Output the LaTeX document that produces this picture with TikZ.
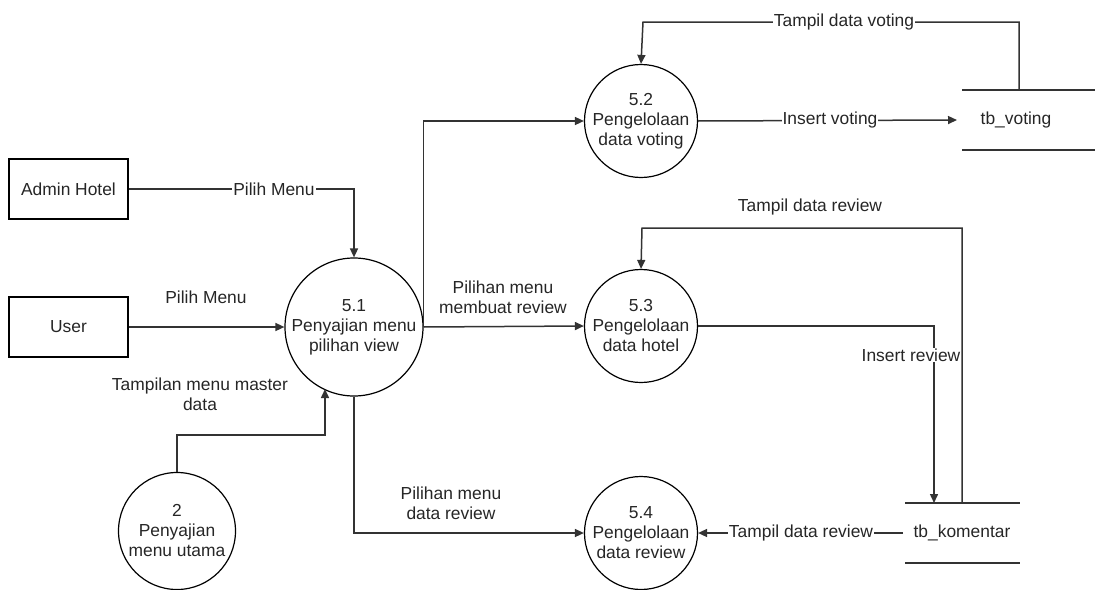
\documentclass[tikz,border=0pt]{standalone}
\usepackage{fontspec}
\setmainfont{Liberation Sans}
\usetikzlibrary{arrows.meta}
\begin{document}
\begin{tikzpicture}[x=1pt,y=-1pt,
  every node/.style={font=\fontsize{17.4}{20}\selectfont, text=black!85},
  proc/.style={draw, circle, line width=1.2pt, inner sep=0pt, align=center},
  ent/.style={draw, rectangle, line width=1.2pt, minimum width=119pt, minimum height=60pt, inner sep=0pt},
  lbl/.style={fill=white, inner sep=1pt, align=center},
  flow/.style={line width=1.5pt, draw=black!80, -{Triangle[length=9pt,width=8pt]}},
  storeline/.style={line width=1.5pt, draw=black!80}]
\useasboundingbox (0,0) rectangle (1095,589);
% external entities
\node[ent] (admin) at (68.5,189) {Admin Hotel};
\node[ent] (user) at (68.5,327) {User};
% processes
\node[proc, minimum size=138pt] (p51) at (354,327) {5.1\\Penyajian menu\\pilihan view};
\node[proc, minimum size=117pt] (p2) at (177,531) {2\\Penyajian\\menu utama};
\node[proc, minimum size=113pt] (p52) at (641,121) {5.2\\Pengelolaan\\data voting};
\node[proc, minimum size=113pt] (p53) at (641,326) {5.3\\Pengelolaan\\data hotel};
\node[proc, minimum size=113pt] (p54) at (641,533) {5.4\\Pengelolaan\\data review};
% data stores
\node (tbv) at (1016,120) {tb\_voting};
\draw[storeline] (962,90) -- (1095,90);
\draw[storeline] (962,150) -- (1095,150);
\node (tbk) at (962,533) {tb\_komentar};
\draw[storeline] (905,503) -- (1020,503);
\draw[storeline] (905,563) -- (1020,563);
\coordinate (tbvin) at (957,120);
\coordinate (tbvtop) at (1019,90);
\coordinate (tbktopA) at (934,503);
\coordinate (tbktopB) at (962,503);
\coordinate (tbkout) at (903,533);
\coordinate (p51in) at (325,389);
% flows
\draw[flow] (admin.east) -| (p51.north);
\node[lbl] at (274,189) {Pilih Menu};
\draw[flow] (user.east) -- (p51.west);
\node at (206,297) {Pilih Menu};
\draw[flow] (p2.north) |- (325,435) -- (p51in);
\node[align=center] at (200,394) {Tampilan menu master\\data};
\draw[flow] (p51.east) |- (p52.west);
\draw[flow] (p51.east) -- (p53.west);
\node[align=center] at (503,297) {Pilihan menu\\membuat review};
\draw[flow] (p51.south) |- (p54.west);
\node[align=center] at (451,503) {Pilihan menu\\data review};
\draw[flow] (p52.east) -- (tbvin);
\node[lbl] at (830,120) {Insert voting};
\draw[flow] (tbvtop) |- (643,22) -- (p52.north);
\node[lbl] at (844,22) {Tampil data voting};
\draw[flow] (p53.east) -| (tbktopA);
\node[lbl] at (911,355) {Insert review};
\draw[flow] (tbktopB) |- (642,228) -- (p53.north);
\node at (810,207) {Tampil data review};
\draw[flow] (tbkout) -- (p54.east);
\node[lbl] at (801,533) {Tampil data review};
\end{tikzpicture}
\end{document}
